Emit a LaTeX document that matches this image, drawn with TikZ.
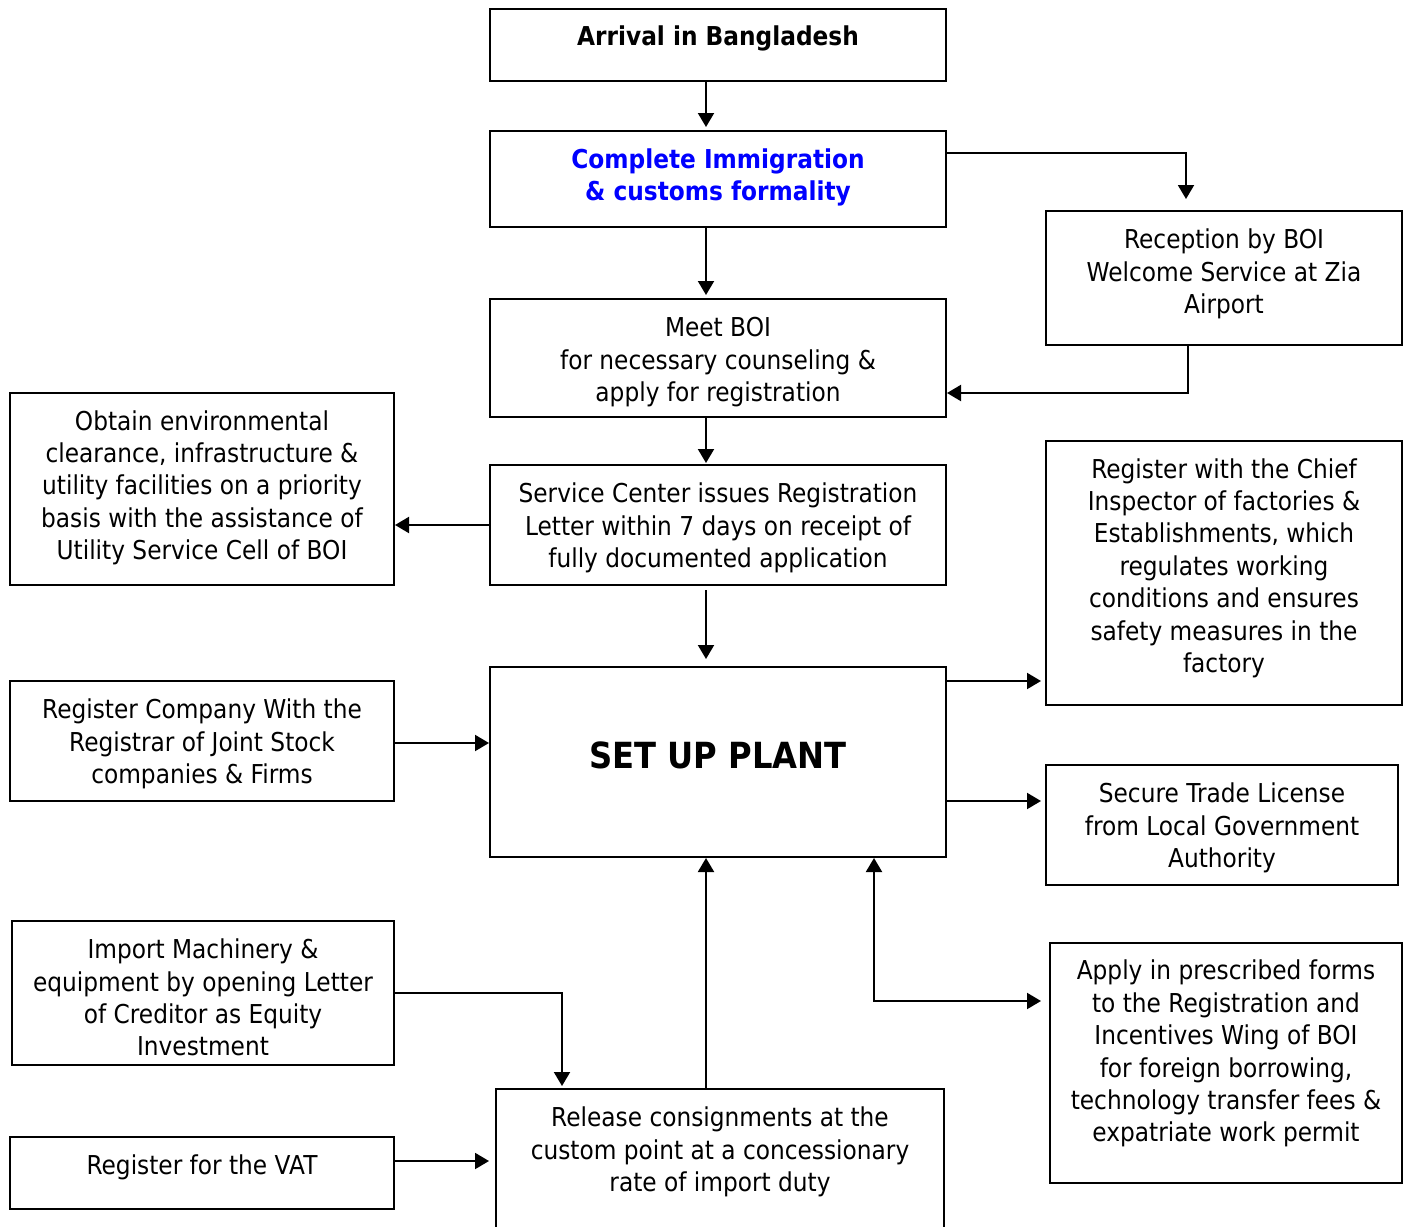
\documentclass[tikz,border=0pt]{standalone}
\usepackage{fontspec}
\setmainfont{DejaVu Sans}[FakeStretch=0.895]
\usetikzlibrary{positioning, arrows.meta}

% invisible rule that deepens the last line (moves text up in its box)
\newcommand{\lift}[1]{\rule[-#1]{0pt}{#1}}
% invisible rule that heightens the first line (moves text down)
\newcommand{\drop}[1]{\rule{0pt}{#1}}

\begin{document}
\begin{tikzpicture}[x=0.5pt, y=-0.5pt,
    every node/.style={font=\fontsize{13pt}{16.2pt}\selectfont, align=center, inner sep=0pt},
    box/.style 2 args={draw, line width=1pt, minimum width=#1, minimum height=#2},
    arr/.style={line width=1pt, -{Triangle[length=7pt, width=8pt]}}]

    \useasboundingbox (0,0) rectangle (1408,1226);

    % Boxes
    \node[box={228pt}{36pt}] (arr) at (718,45) {\textbf{Arrival in Bangladesh}\lift{9pt}};
    \node[box={228pt}{48pt}, text=blue] (imm) at (718,179) {\textbf{Complete Immigration}\\\textbf{\& customs formality}\lift{4.5pt}};
    \node[box={178pt}{67pt}] (rec) at (1224,278) {Reception by BOI\\Welcome Service at Zia\\Airport\lift{6.5pt}};
    \node[box={228pt}{59pt}] (meet) at (718,358) {\drop{13.9pt}Meet BOI\\for necessary counseling \&\\apply for registration};
    \node[box={192pt}{96pt}] (obt) at (202,489) {Obtain environmental\\clearance, infrastructure \&\\utility facilities on a priority\\basis with the assistance of\\Utility Service Cell of BOI\lift{4pt}};
    \node[box={228pt}{60pt}] (svc) at (718,525) {\drop{12.9pt}Service Center issues Registration\\Letter within 7 days on receipt of\\fully documented application};
    \node[box={178pt}{132pt}] (chief) at (1224,573) {Register with the Chief\\Inspector of factories \&\\Establishments, which\\regulates working\\conditions and ensures\\safety measures in the\\factory\lift{7.5pt}};
    \node[box={228pt}{95pt}, font=\fontsize{18pt}{22pt}\selectfont\bfseries] (plant) at (718,762) {SET UP PLANT\lift{7pt}};
    \node[box={192pt}{60pt}] (comp) at (202,741) {\drop{12.9pt}Register Company With the\\Registrar of Joint Stock\\companies \& Firms};
    \node[box={176pt}{60pt}] (trade) at (1222,825) {\drop{12.9pt}Secure Trade License\\from Local Government\\Authority};
    \node[box={191pt}{72pt}] (imp) at (203,993) {\drop{14.4pt}Import Machinery \&\\equipment by opening Letter\\of Creditor as Equity\\Investment};
    \node[box={176pt}{120pt}] (apply) at (1226,1063) {Apply in prescribed forms\\to the Registration and\\Incentives Wing of BOI\\for foreign borrowing,\\technology transfer fees \&\\expatriate work permit\lift{12pt}};
    \node[box={192pt}{36pt}] (vat) at (202,1173) {Register for the VAT\lift{8pt}};
    \node[box={224pt}{85.5pt}] (rel) at (720,1174.5) {Release consignments at the\\custom point at a concessionary\\rate of import duty\lift{25pt}};

    % Arrows down the middle
    \draw[arr, shorten >=1.5pt] ([xshift=-6pt]arr.south) -- ([xshift=-6pt]imm.north);
    \draw[arr, shorten >=1.5pt] ([xshift=-6pt]imm.south) -- ([xshift=-6pt]meet.north);
    \draw[arr, shorten >=0.5pt] ([xshift=-6pt]meet.south) -- ([xshift=-6pt]svc.north);
    \draw[arr, shorten <=2pt, shorten >=3.5pt] ([xshift=-6pt]svc.south) -- ([xshift=-6pt]plant.north);

    % Welcome service loop
    \draw[arr] ([yshift=13pt]imm.east) -| ([xshift=-19pt, yshift=5.5pt]rec.north);
    \draw[arr] ([xshift=-18pt]rec.south) |- ([yshift=-17.5pt]meet.east);

    % Left side
    \draw[arr] (svc.west) -- (svc.west -| obt.east);
    \draw[arr] ([yshift=-1pt]comp.east) -- ([yshift=9.5pt]plant.west);
    \draw[arr] (imp.east) -| ([xshift=-79pt, yshift=1pt]rel.north);
    \draw[arr, shorten >=3pt] ([yshift=6pt]vat.east) -- ([yshift=6.75pt]rel.west);

    % Right side
    \draw[arr, shorten >=2pt] ([yshift=40.5pt]plant.east) -- ([yshift=-54pt]chief.west);
    \draw[arr, shorten >=2pt] ([yshift=-19.5pt]plant.east) -- ([yshift=12pt]trade.west);
    \draw[arr, {Triangle[length=7pt, width=8pt]}-{Triangle[length=7pt, width=8pt]}, shorten >=4pt]
        ([xshift=78pt]plant.south) |- ([yshift=31pt]apply.west);

    % Release up to plant
    \draw[arr] ([xshift=-7pt]rel.north) -- ([xshift=-6pt]plant.south);

\end{tikzpicture}
\end{document}
